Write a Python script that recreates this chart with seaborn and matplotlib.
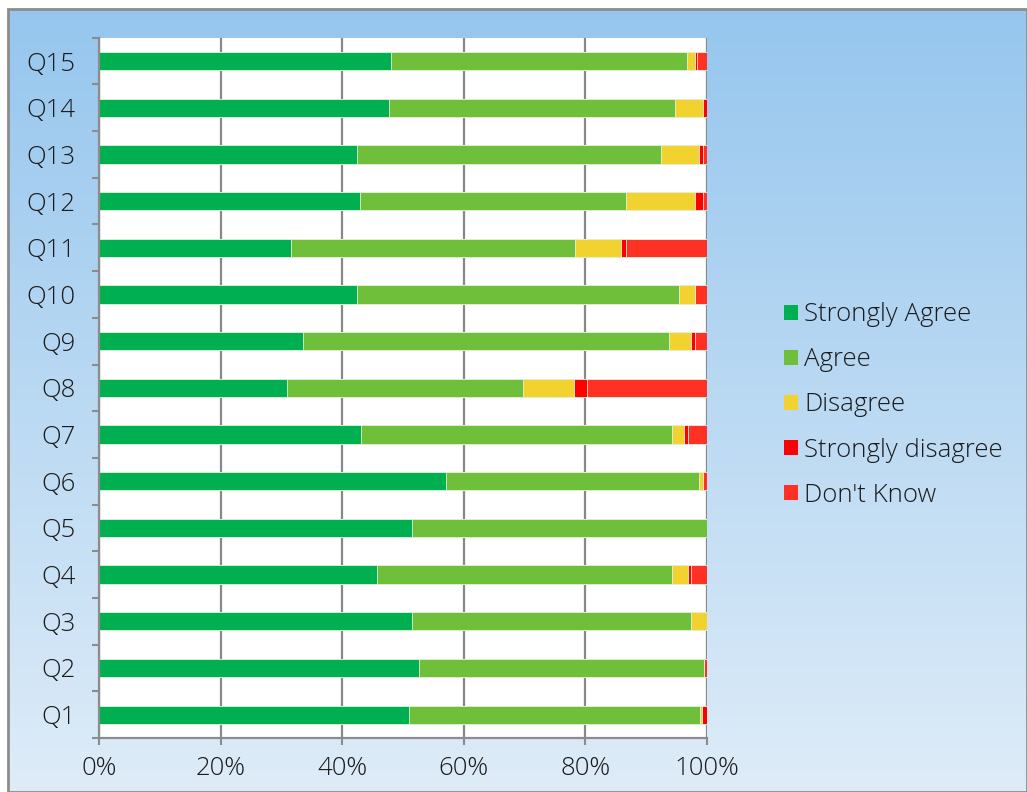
import numpy as np
import pandas as pd
import matplotlib.pyplot as plt
from matplotlib.patches import Rectangle, Patch
from matplotlib.ticker import FixedLocator
import seaborn as sns

# survey results (percent of responses), Q1..Q15
questions = ['Q1', 'Q2', 'Q3', 'Q4', 'Q5', 'Q6', 'Q7', 'Q8', 'Q9', 'Q10',
             'Q11', 'Q12', 'Q13', 'Q14', 'Q15']
strongly_agree = [51.0, 52.7, 51.4, 45.8, 51.4, 57.1, 43.1, 31.0, 33.6, 42.5,
                  31.5, 43.0, 42.5, 47.7, 48.0]
agree = [47.8, 46.8, 46.0, 48.4, 48.6, 41.6, 51.1, 38.7, 60.1, 52.9,
         46.8, 43.7, 50.0, 47.0, 48.7]
disagree = [0.3, 0.0, 2.6, 2.6, 0.0, 0.7, 2.0, 8.4, 3.6, 2.7,
            7.5, 11.4, 6.2, 4.6, 1.4]
strongly_disagree = [0.9, 0.0, 0.0, 0.6, 0.0, 0.0, 0.6, 2.2, 0.7, 0.0,
                     0.8, 1.2, 0.6, 0.7, 0.2]
dont_know = [0.0, 0.5, 0.0, 2.6, 0.0, 0.6, 3.2, 19.7, 2.0, 1.9,
             13.4, 0.7, 0.7, 0.0, 1.7]

series_names = ['Strongly Agree', 'Agree', 'Disagree', 'Strongly disagree', "Don't Know"]
series_colors = ['#00B050', '#6FBF3A', '#F2D22E', '#FF0000', '#FF3125']
x_ticks = [0, 20, 40, 60, 80, 100]

sns.set_style('white')
plt.rcParams['font.family'] = ['Open Sans', 'DejaVu Sans']
plt.rcParams['font.weight'] = 300
text_color = '#1A1A1A'

df = pd.DataFrame({'question': questions,
                   'Strongly Agree': strongly_agree,
                   'Agree': agree,
                   'Disagree': disagree,
                   'Strongly disagree': strongly_disagree,
                   "Don't Know": dont_know})
df = df.iloc[::-1].reset_index(drop=True)   # Q15 at the top
order = list(df['question'])

# cumulative sums so later (shorter) bars are painted over earlier ones
cum = df[series_names].cumsum(axis=1)

fig = plt.figure(figsize=(10.27, 7.92), dpi=100)
fig.patch.set_facecolor('white')

# gradient background with a grey frame
bg = fig.add_axes([8 / 1027, 0, 1 - 8 / 1027, (792 - 9) / 792], zorder=-5)
grad = np.linspace(0, 1, 256).reshape(-1, 1)
top = np.array([150, 198, 238]) / 255.0
bot = np.array([222, 236, 248]) / 255.0
img = top[None, None, :] * (1 - grad[:, :, None]) + bot[None, None, :] * grad[:, :, None]
bg.imshow(img, aspect='auto', extent=[0, 1, 0, 1], origin='upper')
bg.add_patch(Rectangle((0, 0), 1, 1, fill=False, edgecolor='#8C8C8C', lw=2,
                       transform=bg.transAxes, clip_on=False))
bg.set_xlim(0, 1)
bg.set_ylim(0, 1)
bg.axis('off')

ax = fig.add_axes([99 / 1027, (792 - 738) / 792, (707 - 99) / 1027, (738 - 37.7) / 792])
ax.set_facecolor('white')

for name, color in reversed(list(zip(series_names, series_colors))):
    sns.barplot(x=cum[name], y=df['question'], order=order, orient='h',
                color=color, width=0.39, edgecolor='#E6F2E0', linewidth=0.6,
                saturation=1, ax=ax)

ax.set_xlim(0, 100)
ax.set_ylim(len(order) - 0.5, -0.5)
ax.set_xticks(x_ticks)
ax.set_xticklabels([f'{t}%' for t in x_ticks])
ax.set_xlabel('')
ax.set_ylabel('')
ax.grid(axis='x', color='#888888', linewidth=1.6, zorder=0)
ax.set_axisbelow(True)

for side in ['top', 'right']:
    ax.spines[side].set_visible(False)
for side in ['left', 'bottom']:
    ax.spines[side].set_color('#8C8C8C')
    ax.spines[side].set_linewidth(1.6)

ax.tick_params(axis='x', which='major', direction='out', length=5, width=1.5,
               color='#8C8C8C', labelsize=18.5, pad=8, labelcolor=text_color, bottom=True)
ax.tick_params(axis='y', which='major', length=0, labelsize=18.5, pad=17,
               labelcolor=text_color)
ax.yaxis.set_minor_locator(FixedLocator(np.arange(-0.5, len(order), 1.0)))
ax.tick_params(axis='y', which='minor', direction='out', length=5, width=1.5,
               color='#8C8C8C', left=True)

handles = [Patch(facecolor=c, edgecolor='none') for c in series_colors]
fig.legend(handles, series_names, loc='center left',
           bbox_to_anchor=(784 / 1027, (792 - 405) / 792), frameon=False,
           borderpad=0, borderaxespad=0,
           fontsize=18.5, handlelength=0.53, handleheight=0.53, handletextpad=0.25,
           labelspacing=0.78, labelcolor=text_color)

fig.savefig('out.png', dpi=100)
